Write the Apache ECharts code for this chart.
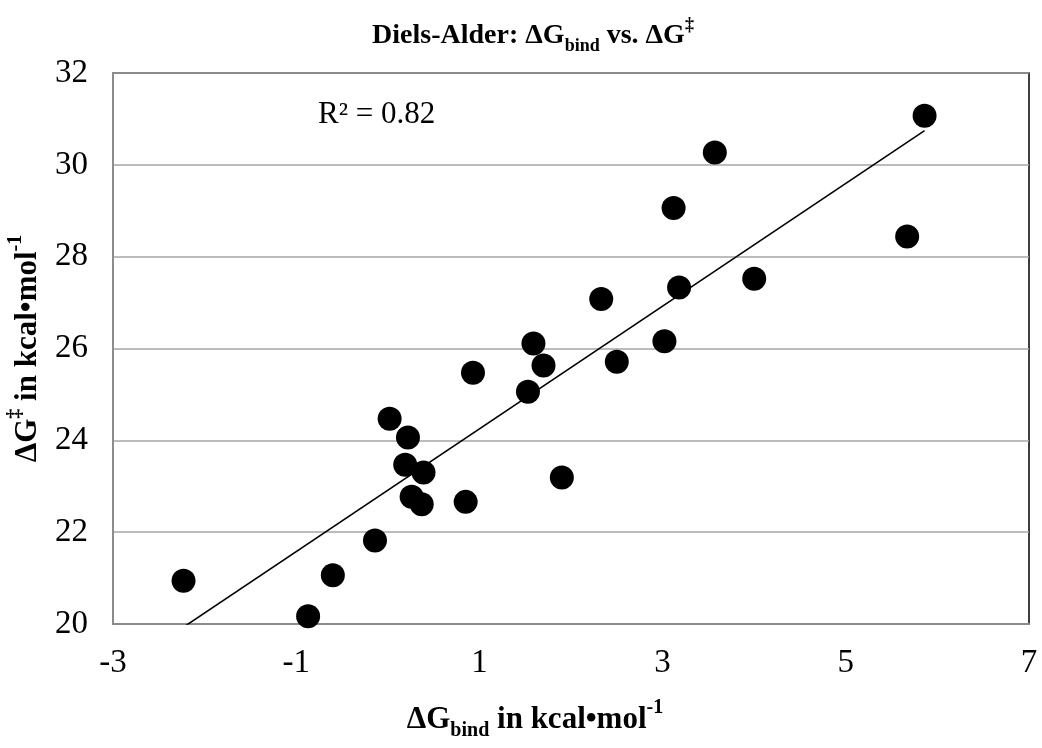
<!DOCTYPE html>
<html>
<head>
<meta charset="utf-8">
<script src="https://cdn.jsdelivr.net/npm/echarts@6/dist/echarts.min.js"></script>
<style>
html,body{margin:0;padding:0;background:#fff;}
#chart{width:1042px;height:748px;}
</style>
</head>
<body>
<div id="chart"></div>
<script>
// ΔG_bind (kcal/mol)
const dGbind = [-2.23, -0.87, -0.60, -0.14, 0.02, 0.22, 0.19, 0.39, 0.26, 0.37, 0.85, 1.90, 1.53, 0.93, 1.59, 1.70, 2.33, 2.50, 3.02, 3.12, 3.18, 3.57, 4.00, 5.67, 5.86];
// ΔG‡ (kcal/mol)
const dGts = [20.94, 20.17, 21.06, 21.82, 24.47, 24.06, 23.47, 23.30, 22.77, 22.61, 22.66, 23.19, 25.06, 25.47, 26.11, 25.63, 27.08, 25.71, 26.16, 29.06, 27.33, 30.27, 27.52, 28.44, 31.07];
const xTicks = [-3, -1, 1, 3, 5, 7];
const yTicks = [20, 22, 24, 26, 28, 30, 32];

// linear least-squares trendline from the data
const n = dGbind.length;
const mx = dGbind.reduce((a, b) => a + b, 0) / n;
const my = dGts.reduce((a, b) => a + b, 0) / n;
let sxy = 0, sxx = 0, syy = 0;
for (let i = 0; i < n; i++) {
  sxy += (dGbind[i] - mx) * (dGts[i] - my);
  sxx += (dGbind[i] - mx) ** 2;
  syy += (dGts[i] - my) ** 2;
}
const slope = sxy / sxx, icpt = my - slope * mx;
const r2 = (sxy * sxy) / (sxx * syy);
const xMin = Math.min(...dGbind), xMax = Math.max(...dGbind);
const trend = [[xMin, slope * xMin + icpt], [xMax, slope * xMax + icpt]];

const serif = '"Liberation Serif", "Times New Roman", serif';
const chart = echarts.init(document.getElementById('chart'));
function richSet(fs) {
  const s = Math.round(fs * 0.66);
  return {
    b: {fontFamily: serif, fontWeight: 'bold', fontSize: fs, color: '#000', lineHeight: Math.round(fs * 1.4)},
    sub: {fontFamily: serif, fontWeight: 'bold', fontSize: s, color: '#000', lineHeight: s, verticalAlign: 'bottom'},
    sup: {fontFamily: serif, fontWeight: 'bold', fontSize: s, color: '#000', lineHeight: s, verticalAlign: 'top'}
  };
}
chart.setOption({
  animation: false,
  backgroundColor: '#fff',
  grid: {left: 113, top: 73, right: 13, bottom: 124, containLabel: false, outerBoundsMode: 'none',
         show: true, borderColor: '#000', borderWidth: 1.5, backgroundColor: 'transparent'},
  graphic: [
    {type: 'text', x: 533, y: 36, style: {text: '{b|Diels-Alder: ΔG}{sub|bind}{b| vs. ΔG}{sup|‡}', rich: richSet(28), align: 'center', verticalAlign: 'middle'}},
    {type: 'text', x: 318, y: 115, style: {text: 'R² = ' + r2.toFixed(2), fontFamily: serif, fontSize: 31, fill: '#000', align: 'left', verticalAlign: 'middle'}}
  ],
  xAxis: {
    type: 'value', min: xTicks[0], max: xTicks[xTicks.length - 1], interval: xTicks[1] - xTicks[0],
    axisLine: {show: true, onZero: false, lineStyle: {color: '#8c8c8c', width: 2}},
    axisTick: {show: false},
    splitLine: {show: false},
    axisLabel: {fontFamily: serif, fontSize: 33, color: '#000', margin: 23},
    name: '{b|ΔG}{sub|bind}{b| in kcal•mol}{sup|-1}',
    nameLocation: 'middle', nameGap: 74,
    nameTextStyle: {rich: richSet(31), padding: [0, 72, 0, 0]}
  },
  yAxis: {
    type: 'value', min: yTicks[0], max: yTicks[yTicks.length - 1], interval: yTicks[1] - yTicks[0],
    axisLine: {show: true, onZero: false, lineStyle: {color: '#8c8c8c', width: 2}},
    axisTick: {show: false},
    splitLine: {show: true, lineStyle: {color: '#a6a6a6', width: 1.5}},
    axisLabel: {fontFamily: serif, fontSize: 33, color: '#000', margin: 25},
    name: '{b|ΔG}{sup|‡}{b| in kcal•mol}{sup|-1}',
    nameLocation: 'middle', nameGap: 64, nameRotate: 90,
    nameTextStyle: {rich: richSet(31)}
  },
  series: [
    {type: 'line', data: trend, symbol: 'none', clip: true, lineStyle: {color: '#000', width: 1.6}, z: 2},
    {type: 'scatter', data: dGbind.map((x, i) => [x, dGts[i]]), symbol: 'circle', symbolSize: 24, itemStyle: {color: '#000', opacity: 1}, z: 3}
  ]
});
</script>
</body>
</html>
